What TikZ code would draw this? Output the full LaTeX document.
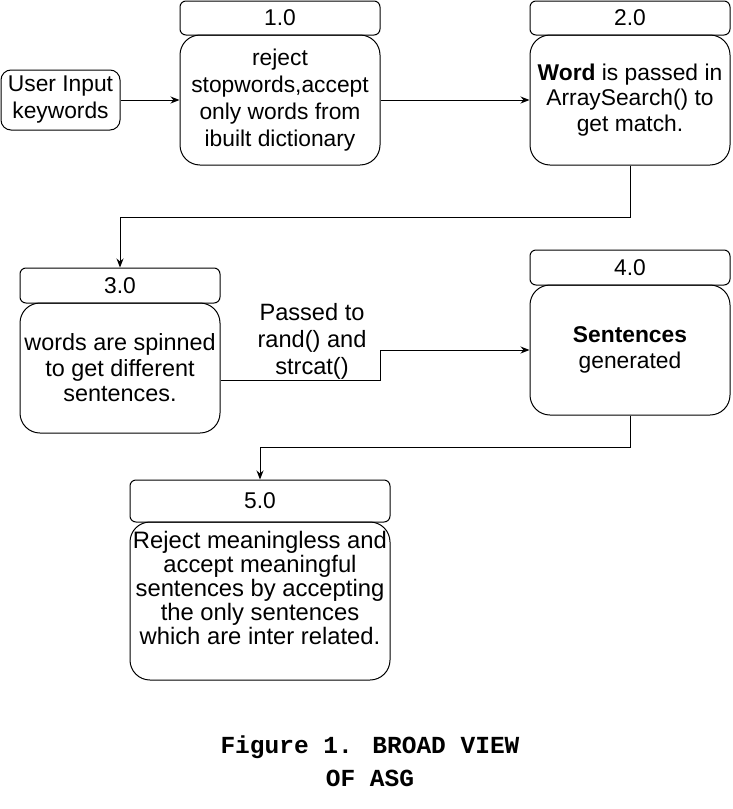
\documentclass[tikz,border=0pt]{standalone}
\usepackage{fontspec}
\setmainfont{Liberation Sans}
\newfontfamily\capfont{Liberation Mono}
\usetikzlibrary{arrows.meta}
\begin{document}
\begin{tikzpicture}[x=1pt,y=-1pt,
  txt/.style={align=center, font=\fontsize{22.8}{26}\selectfont, inner sep=0pt},
  box/.style={txt, draw, line width=1pt, rounded corners=20pt, minimum width=200pt, minimum height=130pt},
  hdr/.style={txt, draw, line width=1pt, rounded corners=6pt, minimum width=200pt, minimum height=34pt},
  conn/.style={line width=1pt, -{Stealth[length=9pt,width=7pt]}}]
\fill[white] (0,0) rectangle (732,809);
\useasboundingbox (0,0) rectangle (732,809);
% input
\node[txt, draw, line width=1pt, rounded corners=10pt, minimum width=119pt, minimum height=60pt, font=\fontsize{22.8}{27}\selectfont] (u) at (60.5,100) {User Input\\keywords};
% 1.0
\node[hdr] (h1) at (280,18) {1.0};
\node[box, font=\fontsize{22.8}{27}\selectfont] (b1) at (280,100) {reject\\stopwords,accept\\only words from\\ibuilt dictionary};
% 2.0
\node[hdr] (h2) at (630,18) {2.0};
\node[box, font=\fontsize{22.8}{25.5}\selectfont] (b2) at (630,100) {\textbf{Word} is passed in\\ArraySearch() to\\get match.};
% 3.0
\node[hdr, minimum height=35pt] (h3) at (120,285.5) {3.0};
\node[box, font=\fontsize{23.4}{25.5}\selectfont] (b3) at (120,368) {words are spinned\\to get different\\sentences.};
% 4.0
\node[hdr, minimum height=35pt] (h4) at (630,267.5) {4.0};
\node[box] (b4) at (630,350) {\textbf{Sentences}\\generated};
% 5.0
\node[hdr, minimum width=260pt, minimum height=42pt] (h5) at (260,501) {5.0};
\node[box, minimum width=260pt, minimum height=158pt] (b5) at (260,601) {};
\node[txt, font=\fontsize{23.8}{24}\selectfont] (t5) at (260,588) {Reject meaningless and\\accept meaningful\\sentences by accepting\\the only sentences\\which are inter related.};
% connectors
\draw[conn] (u) -- (b1);
\draw[conn] (b1) -- (b2);
\draw[conn] (b2.south) -- ++(0,52) -| (h3.north);
\draw[conn] ([yshift=-12pt]b3.east) -- ++(160,0) |- (b4.west);
\draw[conn] (b4.south) -- ++(0,32) -| (h5.north);
\node[txt, font=\fontsize{23.6}{27}\selectfont] (lbl) at (312,341) {Passed to\\rand() and\\strcat()};
% caption
\node[align=center, inner sep=0pt, font=\capfont\bfseries\fontsize{24.5}{33}\selectfont] (cap) at (370,761) {Figure 1. BROAD VIEW\\OF ASG};
\end{tikzpicture}
\end{document}
